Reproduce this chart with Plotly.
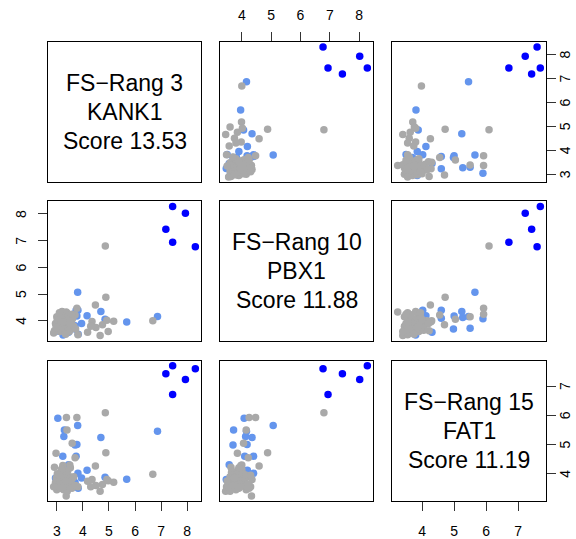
import plotly.graph_objects as go

# Expression values per sample (three genes) and the sample group
kank1 = [8.31, 7.93, 7.44, 7.44, 7.18,
         6.86, 5.68, 3.80, 3.04, 3.29, 3.27, 4.69, 3.77, 3.70, 3.23, 3.74, 3.45,
         4.16, 3.81, 4.85, 3.82, 3.24,
         3.10, 3.35, 3.50, 3.95, 3.70, 3.00, 3.25, 2.95,
         4.86, 6.68, 4.88, 4.48, 3.37, 3.77, 3.39, 3.59, 2.97, 2.91, 3.23, 5.18,
         4.66, 4.75, 4.50, 4.92, 4.35, 4.18, 3.36, 3.81, 4.97, 3.70, 3.50, 4.30,
         3.05, 3.10, 3.15, 3.20, 3.25, 3.30, 3.35, 3.40, 3.45, 3.50, 3.00, 2.95,
         3.12, 3.22, 3.28, 3.38, 3.42, 3.55, 3.60, 3.18, 3.08, 3.32, 3.48, 3.02,
         3.26, 3.36, 3.14, 3.44, 3.65, 3.20, 2.88, 3.30, 3.52, 3.16, 3.40, 2.98,
         3.24, 3.58, 3.10, 3.34, 3.72]
pbx1 = [6.77, 8.02, 8.28, 6.94, 7.43,
        4.16, 3.96, 5.07, 4.08, 3.72, 4.13, 4.35, 4.18, 3.70, 4.10, 4.40, 3.57,
        4.19, 4.40, 4.06, 3.50, 3.47,
        3.75, 3.65, 3.85, 3.90, 3.82, 3.90, 4.20, 3.60,
        6.80, 4.00, 4.88, 4.59, 4.25, 4.47, 4.15, 4.06, 3.85, 3.63, 3.97, 3.99,
        3.45, 3.85, 3.75, 4.02, 3.98, 3.57, 4.33, 3.48, 3.60, 4.22, 4.00, 3.80,
        3.80, 3.95, 4.05, 3.70, 3.85, 4.10, 3.90, 4.00, 3.75, 4.20, 4.15, 3.90,
        3.60, 4.25, 3.65, 4.30, 3.85, 3.95, 4.10, 4.00, 3.70, 3.95, 3.60, 4.05,
        3.80, 4.15, 3.85, 4.05, 3.80, 4.35, 3.55, 3.70, 3.90, 4.20, 3.60, 3.75,
        3.95, 4.25, 4.30, 3.50, 3.70]
fat1 = [7.59, 7.22, 7.69, 6.71, 7.42,
        5.45, 3.81, 5.65, 5.90, 5.50, 5.27, 5.24, 5.00, 4.98, 4.60, 4.60, 4.31,
        4.12, 4.02, 3.88, 3.50, 3.80,
        3.80, 3.70, 3.60, 3.85, 3.70, 3.65, 3.95, 3.85,
        6.09, 3.98, 4.72, 4.26, 5.92, 5.92, 5.50, 5.04, 4.70, 4.22, 4.28, 3.71,
        3.40, 3.63, 3.60, 3.80, 3.80, 3.74, 3.24, 3.55, 3.76, 4.55, 4.30, 3.55,
        3.60, 3.75, 3.85, 3.55, 3.95, 3.70, 3.50, 3.80, 3.65, 3.90, 3.45, 3.70,
        3.90, 3.60, 4.05, 3.55, 4.10, 3.70, 3.85, 4.15, 3.95, 3.65, 3.75, 4.00,
        3.45, 3.95, 3.50, 3.60, 3.90, 3.80, 3.55, 3.85, 4.20, 3.65, 3.40, 3.85,
        3.55, 3.50, 3.95, 3.75, 3.60]
group = (["high"] * 5 + ["mid"] * 25 + ["low"] * 65)

genes = ["KANK1", "PBX1", "FAT1"]
ranks = [3, 10, 15]
scores = [13.53, 11.88, 11.19]
ticks = [[3, 4, 5, 6, 7, 8], [4, 5, 6, 7, 8], [4, 5, 6, 7]]

group_colors = {"high": "#0000FF", "mid": "#6495ED", "low": "#A9A9A9"}
data = [kank1, pbx1, fat1]
colors = [group_colors[g] for g in group]

FONT = "Liberation Sans, Arial, sans-serif"
TICK_SIZE = 14
W, H = 576, 539

# panel edges in pixels (left, right) / (top, bottom)
col_px = [(48, 201), (220, 373), (392, 546)]
row_px = [(42, 183), (202, 342), (362, 503)]


def ext_range(v):
    lo, hi = min(v), max(v)
    pad = 0.04 * (hi - lo)
    return [lo - pad, hi + pad]


ranges = [ext_range(v) for v in data]

fig = go.Figure()
layout = dict(width=W, height=H, margin=dict(l=0, r=0, t=0, b=0),
              paper_bgcolor="white", plot_bgcolor="white",
              showlegend=False, font=dict(family=FONT, color="black"))

annotations = []
for r in range(3):
    for c in range(3):
        idx = r * 3 + c + 1
        sfx = "" if idx == 1 else str(idx)
        xname, yname = "xaxis" + sfx, "yaxis" + sfx
        xd = [col_px[c][0] / W, col_px[c][1] / W]
        yd = [1 - row_px[r][1] / H, 1 - row_px[r][0] / H]

        xax = dict(domain=xd, range=ranges[c], anchor="y" + sfx,
                   showline=True, mirror=True, linecolor="black", linewidth=1,
                   showgrid=False, zeroline=False, ticks="",
                   showticklabels=False, fixedrange=True)
        yax = dict(domain=yd, range=ranges[r], anchor="x" + sfx,
                   showline=True, mirror=True, linecolor="black", linewidth=1,
                   showgrid=False, zeroline=False, ticks="",
                   showticklabels=False, fixedrange=True)

        tick_style = dict(ticks="outside", ticklen=9, tickwidth=1,
                          tickcolor="#333333",
                          tickfont=dict(family=FONT, size=TICK_SIZE,
                                        color="black"))
        # x axis labels: top for the middle column, bottom for outer columns
        if r == 0 and c == 1:
            xax.update(tick_style, side="top", tickvals=ticks[c],
                       showticklabels=True, ticklabelstandoff=6)
        if r == 2 and c in (0, 2):
            xax.update(tick_style, side="bottom", tickvals=ticks[c],
                       showticklabels=True, ticklabelstandoff=8)

        # y axis: left for the middle row, right for outer rows;
        # labels are written rotated, reading upwards
        y_side = None
        if r == 1 and c == 0:
            y_side = "left"
        if c == 2 and r in (0, 2):
            y_side = "right"
        if y_side:
            yax.update(tick_style, side=y_side, tickvals=ticks[r])
            for t in ticks[r]:
                annotations.append(dict(
                    text=str(t), xref="x%s domain" % sfx, yref="y" + sfx,
                    x=0 if y_side == "left" else 1, y=t,
                    xshift=-27 if y_side == "left" else 19,
                    textangle=-90, showarrow=False,
                    xanchor="center", yanchor="middle",
                    font=dict(family=FONT, size=TICK_SIZE, color="black")))

        layout[xname] = xax
        layout[yname] = yax

        if r == c:
            # empty trace so the panel frame and its axes are drawn
            fig.add_trace(go.Scatter(x=[None], y=[None], mode="markers",
                                     xaxis="x" + sfx, yaxis="y" + sfx,
                                     hoverinfo="skip"))
            lines = ["FS\u2212Rang %d" % ranks[r], genes[r],
                     "Score %.2f" % scores[r]]
            for k, txt in enumerate(lines):
                annotations.append(dict(
                    text=txt, xref="x%s domain" % sfx, yref="y%s domain" % sfx,
                    x=0.5, y=0.5 + (1 - k) * 0.206, showarrow=False,
                    xanchor="center", yanchor="middle",
                    font=dict(family=FONT, size=23, color="black")))
        else:
            fig.add_trace(go.Scatter(
                x=data[c], y=data[r], mode="markers",
                xaxis="x" + sfx, yaxis="y" + sfx,
                marker=dict(size=7.5, color=colors, line=dict(width=0)),
                hoverinfo="skip"))

layout["annotations"] = annotations
fig.update_layout(**layout)
fig.write_html("out.html")
